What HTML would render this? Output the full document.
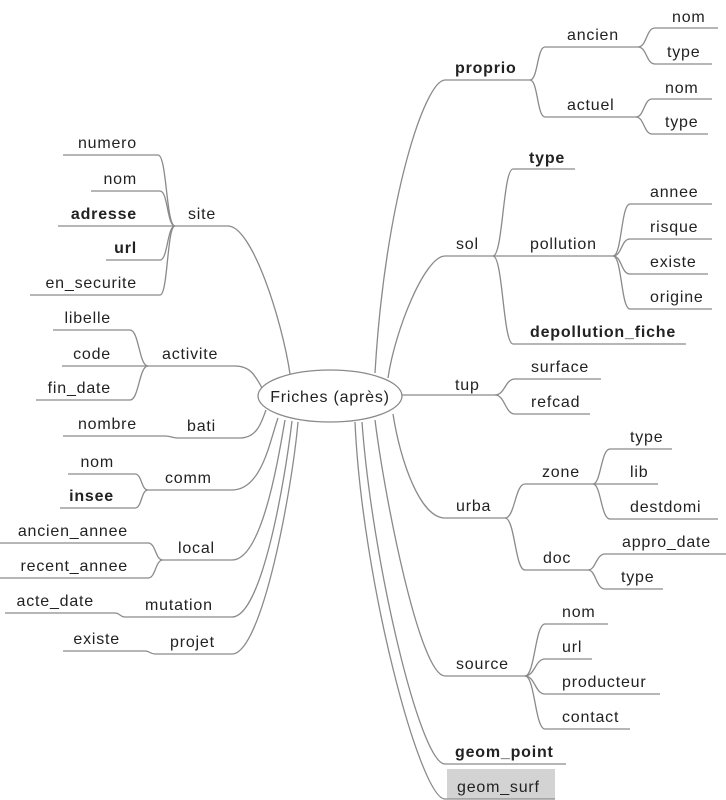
<!DOCTYPE html>
<html><head><meta charset="utf-8"><style>
html,body{margin:0;padding:0;background:#fff}
svg{display:block}
text{font-family:"Liberation Sans",Arial,sans-serif;font-size:16px;fill:#222;letter-spacing:0.8px}
.b{font-weight:bold}
.e{text-anchor:end}
</style></head><body>
<svg width="726" height="800" viewBox="0 0 726 800" xmlns="http://www.w3.org/2000/svg">
<rect x="447" y="769" width="108" height="30" fill="#d3d3d3"/>
<g fill="none" stroke="#8a8a8a" stroke-width="1.3">
<!-- main branches -->
<path d="M228,226 C252,226 282,320 290,374"/>
<path d="M235,366 C250,366 255,375 262,388"/>
<path d="M240,438 C258,438 262,420 266,410"/>
<path d="M232,490 C262,490 270,440 278,418"/>
<path d="M232,560 C262,560 278,460 285,420"/>
<path d="M232,617 C262,617 285,480 292,421"/>
<path d="M232,654 C262,654 292,490 298,422"/>
<path d="M445,80 C425,80 385,200 375,373"/>
<path d="M445,256 C425,256 395,330 388,378"/>
<path d="M402,395 L495,395"/>
<path d="M445,518 C420,518 400,460 393,414"/>
<path d="M445,676 C420,676 385,500 375,420"/>
<path d="M445,764 C420,764 372,560 362,422"/>
<path d="M445,799 C420,799 362,580 355,422"/>
<!-- node lines -->
<path d="M175,226 H228"/>
<path d="M148,366 H235"/>
<path d="M178,438 H240"/>
<path d="M148,490 H232"/>
<path d="M163,560 H232"/>
<path d="M125,617 H232"/>
<path d="M155,654 H232"/>
<path d="M445,80 H530"/>
<path d="M445,256 H613"/>
<path d="M445,518 H505"/>
<path d="M445,676 H525"/>
<path d="M445,764 H566"/>
<path d="M445,799 H555"/>
<!-- right sub -->
<path d="M530,80 C538,80 537,47 545,47 H638"/>
<path d="M530,80 C538,80 537,117 545,117 H636"/>
<path d="M638,47 C647,47 646,28 655,28 H718"/>
<path d="M638,47 C647,47 646,64 655,64 H712"/>
<path d="M636,117 C644,117 644,99 652,99 H712"/>
<path d="M636,117 C644,117 644,134 652,134 H708"/>
<path d="M493,256 C503,256 503,169 513,169 H575"/>
<path d="M493,256 C503,256 503,344 513,344 H686"/>
<path d="M613,256 C622,256 621,204 630,204 H712"/>
<path d="M613,256 C622,256 621,239 630,239 H712"/>
<path d="M613,256 C622,256 621,274 630,274 H708"/>
<path d="M613,256 C622,256 621,309 630,309 H712"/>
<path d="M495,395 C505,395 505,379 515,379 H601"/>
<path d="M495,395 C505,395 505,414 515,414 H590"/>
<path d="M505,518 C515,518 515,484 525,484 H593"/>
<path d="M505,518 C515,518 515,570 525,570 H588"/>
<path d="M593,484 C601,484 601,449 610,449 H672"/>
<path d="M593,484 H658"/>
<path d="M593,484 C601,484 601,519 610,519 H718"/>
<path d="M588,570 C596,570 596,554 605,554 H726"/>
<path d="M588,570 C596,570 596,589 605,589 H663"/>
<path d="M525,676 C535,676 535,624 545,624 H608"/>
<path d="M525,676 C535,676 535,659 545,659 H592"/>
<path d="M525,676 C535,676 535,694 545,694 H660"/>
<path d="M525,676 C535,676 535,729 545,729 H630"/>
<!-- left sub -->
<path d="M175,226 C166,226 167,155 158,155 H63"/>
<path d="M175,226 C167,226 168,191 160,191 H91"/>
<path d="M175,226 H58"/>
<path d="M175,226 C167,226 168,260 160,260 H106"/>
<path d="M175,226 C167,226 168,295 160,295 H30"/>
<path d="M148,366 C139,366 139,330 130,330 H53"/>
<path d="M148,366 H62"/>
<path d="M148,366 C139,366 139,400 130,400 H36"/>
<path d="M178,438 C172,438 171,436 165,436 H63"/>
<path d="M148,490 C141,490 142,474 135,474 H68"/>
<path d="M148,490 C141,490 142,508 135,508 H60"/>
<path d="M163,560 C155,560 156,543 148,543 H0"/>
<path d="M163,560 C155,560 156,578 148,578 H0"/>
<path d="M125,617 C120,617 120,613 115,613 H5"/>
<path d="M155,654 C150,654 150,651 145,651 H63"/>
</g>
<ellipse cx="330" cy="396" rx="72" ry="26" fill="#fff" stroke="#8a8a8a" stroke-width="1.3"/>
<text x="330" y="402" text-anchor="middle">Friches (après)</text>
<!-- left labels -->
<text class="e" x="137" y="148">numero</text>
<text class="e" x="137" y="184">nom</text>
<text class="e b" x="137" y="219">adresse</text>
<text class="e b" x="137" y="253">url</text>
<text class="e" x="137" y="288">en_securite</text>
<text x="188" y="219">site</text>
<text class="e" x="111" y="323">libelle</text>
<text class="e" x="111" y="359">code</text>
<text class="e" x="111" y="393">fin_date</text>
<text x="162" y="359">activite</text>
<text class="e" x="137" y="429">nombre</text>
<text x="187" y="431">bati</text>
<text class="e" x="114" y="467">nom</text>
<text class="e b" x="114" y="501">insee</text>
<text x="165" y="483">comm</text>
<text class="e" x="128" y="536">ancien_annee</text>
<text class="e" x="128" y="571">recent_annee</text>
<text x="178" y="553">local</text>
<text class="e" x="94" y="606">acte_date</text>
<text x="145" y="610">mutation</text>
<text class="e" x="120" y="644">existe</text>
<text x="170" y="647">projet</text>
<!-- right labels -->
<text class="b" x="455" y="73">proprio</text>
<text x="567" y="40">ancien</text>
<text x="672" y="22">nom</text>
<text x="667" y="57">type</text>
<text x="567" y="110">actuel</text>
<text x="665" y="93">nom</text>
<text x="665" y="127">type</text>
<text x="456" y="249">sol</text>
<text class="b" x="529" y="163">type</text>
<text x="530" y="249">pollution</text>
<text x="650" y="197">annee</text>
<text x="650" y="232">risque</text>
<text x="650" y="267">existe</text>
<text x="650" y="302">origine</text>
<text class="b" x="530" y="337">depollution_fiche</text>
<text x="455" y="390">tup</text>
<text x="531" y="372">surface</text>
<text x="531" y="407">refcad</text>
<text x="456" y="511">urba</text>
<text x="542" y="477">zone</text>
<text x="630" y="442">type</text>
<text x="630" y="477">lib</text>
<text x="630" y="512">destdomi</text>
<text x="543" y="563">doc</text>
<text x="622" y="547">appro_date</text>
<text x="621" y="582">type</text>
<text x="456" y="669">source</text>
<text x="562" y="617">nom</text>
<text x="562" y="652">url</text>
<text x="562" y="687">producteur</text>
<text x="562" y="722">contact</text>
<text class="b" x="455" y="757">geom_point</text>
<text x="457" y="792">geom_surf</text>
</svg>
</body></html>
